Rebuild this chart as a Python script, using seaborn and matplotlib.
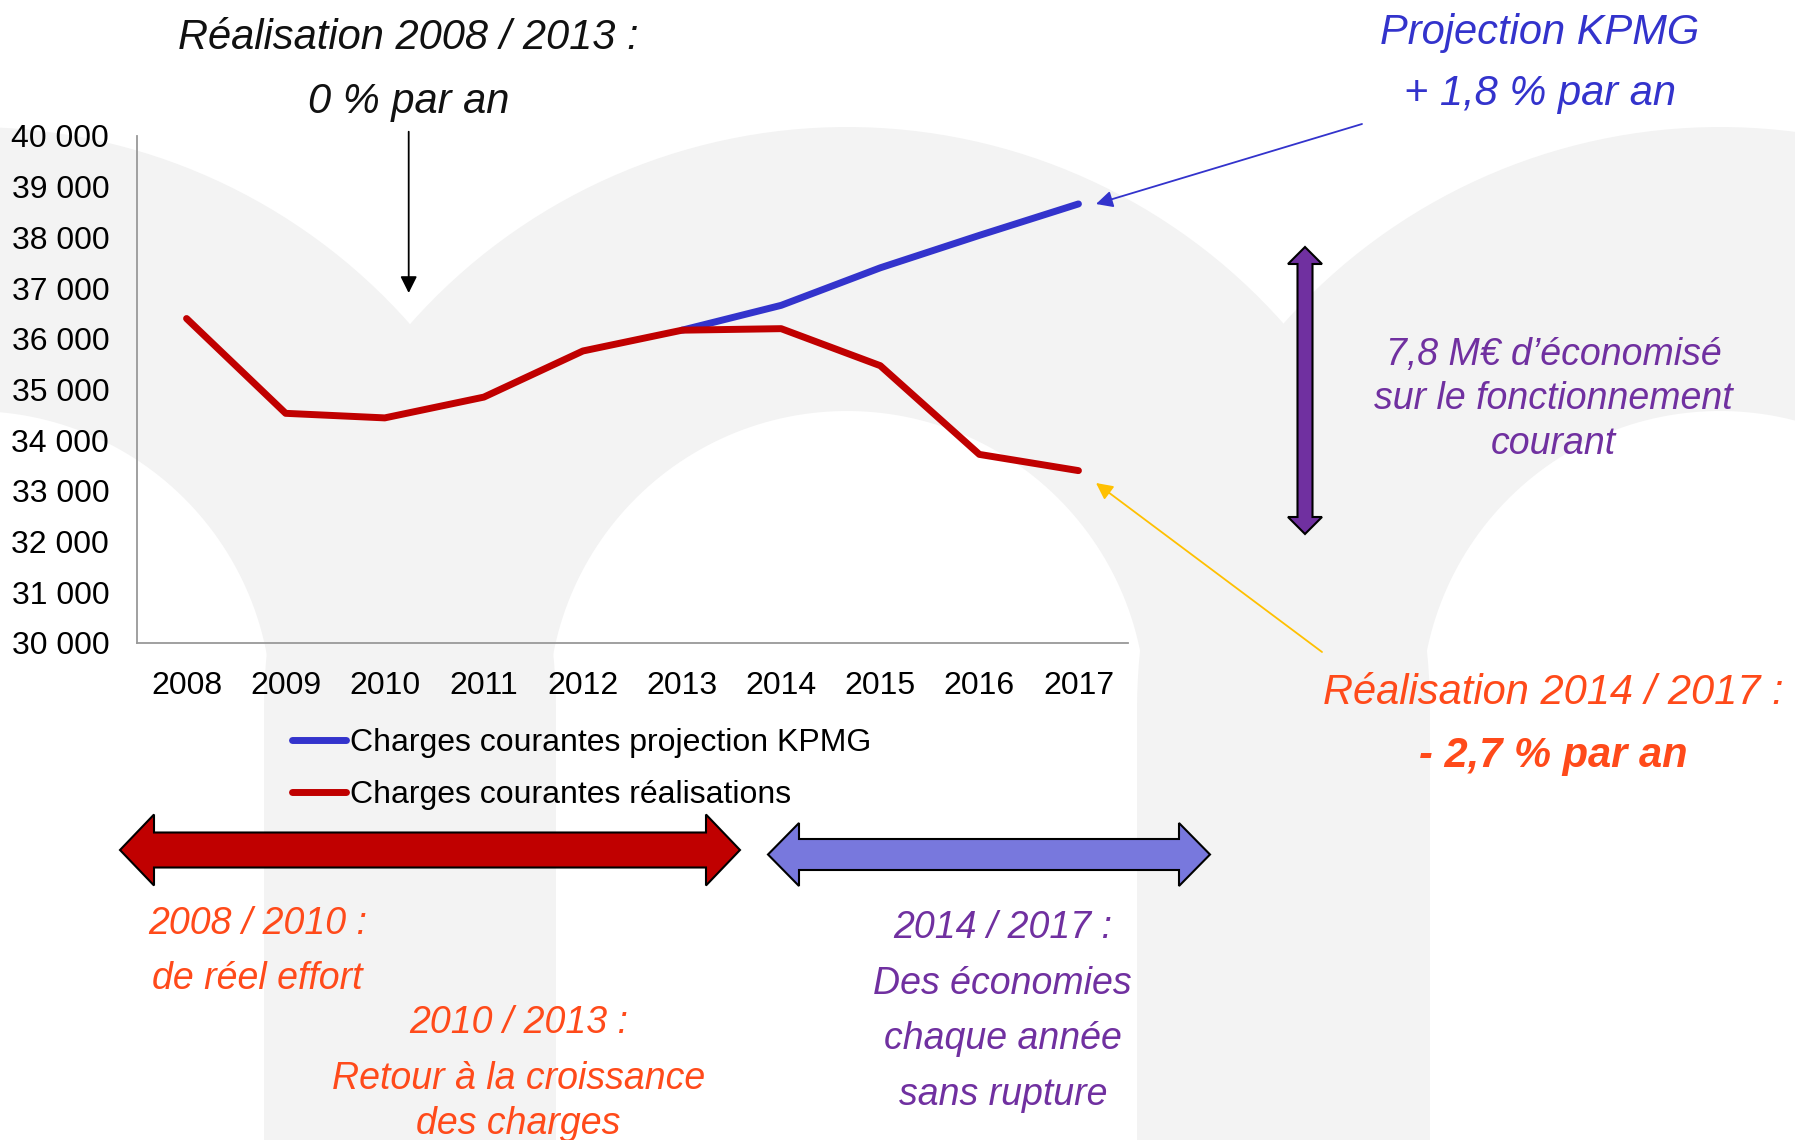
import numpy as np
import pandas as pd
import matplotlib
matplotlib.use("Agg")
import matplotlib.pyplot as plt
import seaborn as sns
from matplotlib.patches import Polygon
from matplotlib.ticker import FuncFormatter

# ---------------- data ----------------
years_real = [2008, 2009, 2010, 2011, 2012, 2013, 2014, 2015, 2016, 2017]
real_values = [36400, 34530, 34440, 34850, 35760, 36170, 36200, 35470, 33720, 33400]
years_kpmg = [2013, 2014, 2015, 2016, 2017]
kpmg_values = [36170, 36660, 37400, 38040, 38660]
series_names = ["Charges courantes projection KPMG", "Charges courantes réalisations"]
series_colors = ["#3333CC", "#C00000"]
y_ticks = list(range(30000, 40001, 1000))

df = pd.concat([
    pd.DataFrame({"Année": years_kpmg, "Valeur": kpmg_values, "Série": series_names[0]}),
    pd.DataFrame({"Année": years_real, "Valeur": real_values, "Série": series_names[1]}),
], ignore_index=True)

sns.set_theme(style="white")
plt.rcParams["font.family"] = ["Liberation Sans", "DejaVu Sans"]
plt.rcParams["text.color"] = "black"

W, H = 1795, 1140
fig = plt.figure(figsize=(W / 100, H / 100), dpi=100)

# ---------------- background watermark ----------------
bg = fig.add_axes([0, 0, 1, 1], zorder=0)
bg.set_xlim(0, W)
bg.set_ylim(H, 0)
bg.axis("off")
cy, r_out, r_in = 710, 583, 299
for cx in (-27, 847, 1720):
    th = np.linspace(np.pi, 0, 120)
    outer = [(cx + r_out * np.cos(t), cy - r_out * np.sin(t)) for t in th]
    inner = [(cx + r_in * np.cos(t), cy - r_in * np.sin(t)) for t in th[::-1]]
    pts = outer + [(cx + r_out, H + 5), (cx + r_in, H + 5)] + inner + [(cx - r_in, H + 5), (cx - r_out, H + 5)]
    bg.add_patch(Polygon(pts, closed=True, facecolor="#F3F3F3", edgecolor="none"))

# ---------------- main chart ----------------
ax = fig.add_axes([137 / W, 1 - 643 / H, (1128 - 137) / W, (643 - 136) / H], zorder=2)
ax.patch.set_alpha(0)
sns.lineplot(data=df, x="Année", y="Valeur", hue="Série", hue_order=series_names,
             palette=dict(zip(series_names, series_colors)), linewidth=5, ax=ax)
ax.set_xlim(2007.5, 2017.5)
ax.set_ylim(30000, 40000)
ax.set_xticks(years_real)
ax.set_yticks(y_ticks)
ax.yaxis.set_major_formatter(FuncFormatter(lambda v, p: f"{int(v):,}".replace(",", " ")))
ax.set_xlabel("")
ax.set_ylabel("")
for s in ("top", "right"):
    ax.spines[s].set_visible(False)
for s in ("left", "bottom"):
    ax.spines[s].set_color("#999999")
    ax.spines[s].set_linewidth(1.3)
ax.tick_params(axis="both", length=0, labelsize=23, pad=20, colors="black")
ax.grid(False)

handles, labels = ax.get_legend_handles_labels()
leg = ax.legend(handles, labels, loc="upper left", bbox_to_anchor=(292 / W, 1 - 728 / H),
                bbox_transform=fig.transFigure, frameon=False, fontsize=23, handlelength=1.7,
                handletextpad=0.1, borderpad=0, borderaxespad=0, labelspacing=0.68)
for t in leg.get_texts():
    t.set_color("black")

# ---------------- annotations ----------------
ov = fig.add_axes([0, 0, 1, 1], zorder=3)
ov.set_xlim(0, W)
ov.set_ylim(H, 0)
ov.axis("off")
ov.patch.set_alpha(0)


def label(x, yc, s, size, color, weight="normal"):
    off = 0.716 * size / 72 * 100 / 2
    ov.text(x, yc + off, s, ha="center", va="baseline", fontsize=size, style="italic",
            color=color, fontweight=weight)


def arrow(tail, tip, color, ms=25, lw=1.3):
    ov.annotate("", xy=tip, xytext=tail,
                arrowprops=dict(arrowstyle="-|>", color=color, lw=lw, mutation_scale=ms,
                                shrinkA=0, shrinkB=0))


def double_arrow(a0, a1, c, shaft, head, hl, fc, vertical=False):
    pts = [(a0, c), (a0 + hl, c - head / 2), (a0 + hl, c - shaft / 2), (a1 - hl, c - shaft / 2),
           (a1 - hl, c - head / 2), (a1, c), (a1 - hl, c + head / 2), (a1 - hl, c + shaft / 2),
           (a0 + hl, c + shaft / 2), (a0 + hl, c + head / 2)]
    if vertical:
        pts = [(q, p) for p, q in pts]
    ov.add_patch(Polygon(pts, closed=True, facecolor=fc, edgecolor="black", linewidth=1.5,
                         joinstyle="miter"))


black = "#111111"
blue_t = "#3333CC"
purple = "#7030A0"
orange = "#FF4A1A"

label(408.7, 34.3, "Réalisation 2008 / 2013 :", 30, black)
label(408.7, 98.5, "0 % par an", 30, black)
arrow((408.7, 131.7), (408.7, 293), "black")

label(1540, 28.6, "Projection KPMG", 30, blue_t)
label(1540, 90.4, "+ 1,8 % par an", 30, blue_t)
arrow((1362, 124), (1096, 204), "#3333CC")

double_arrow(247, 534, 1305, 15, 34, 17, purple, vertical=True)
label(1553.5, 351.5, "7,8 M€ d’économisé", 27, purple)
label(1553.5, 396, "sur le fonctionnement", 27, purple)
label(1553.5, 440.7, "courant", 27, purple)

label(1553.5, 689, "Réalisation 2014 / 2017 :", 30, orange)
label(1553.5, 752, "- 2,7 % par an", 30, orange, weight="bold")
arrow((1322, 652), (1096, 483), "#FFC000")

double_arrow(120, 740, 850, 35, 71, 34, "#C00000")
double_arrow(768, 1210, 854.5, 31, 63, 31, "#7878DD")

label(257.6, 920.4, "2008 / 2010 :", 27, orange)
label(257.6, 975.4, "de réel effort", 27, orange)
label(518.6, 1020, "2010 / 2013 :", 27, orange)
label(518.6, 1076, "Retour à la croissance", 27, orange)
label(518.6, 1120.8, "des charges", 27, orange)

label(1002.8, 925, "2014 / 2017 :", 27, purple)
label(1002.8, 981, "Des économies", 27, purple)
label(1002.8, 1036, "chaque année", 27, purple)
label(1002.8, 1092, "sans rupture", 27, purple)

fig.savefig("out.png", dpi=100)
